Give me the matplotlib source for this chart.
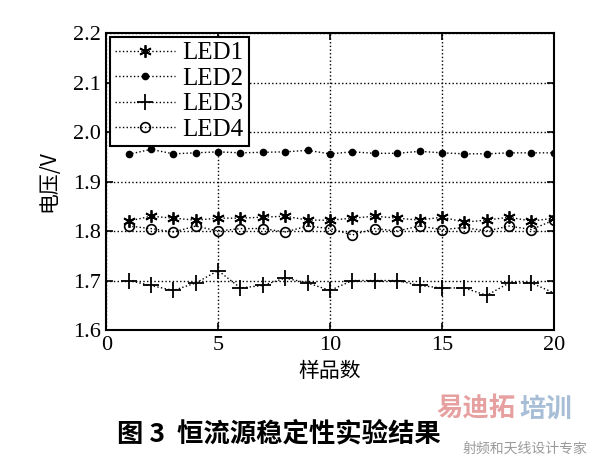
import matplotlib
matplotlib.use("Agg")
import matplotlib.pyplot as plt

# 样品编号
samples = list(range(1, 21))

# 各LED电压 (V)
led1 = [1.820, 1.830, 1.826, 1.822, 1.826, 1.826, 1.828, 1.830, 1.822, 1.822,
        1.826, 1.830, 1.826, 1.822, 1.828, 1.818, 1.822, 1.828, 1.820, 1.826]
led2 = [1.955, 1.965, 1.956, 1.958, 1.960, 1.958, 1.959, 1.960, 1.963, 1.956,
        1.960, 1.957, 1.957, 1.961, 1.958, 1.956, 1.956, 1.958, 1.958, 1.958]
led3 = [1.700, 1.690, 1.680, 1.695, 1.720, 1.685, 1.690, 1.705, 1.695, 1.680,
        1.700, 1.700, 1.700, 1.690, 1.685, 1.685, 1.670, 1.695, 1.695, 1.675]
led4 = [1.810, 1.805, 1.798, 1.810, 1.800, 1.805, 1.805, 1.798, 1.810, 1.805,
        1.792, 1.805, 1.800, 1.810, 1.803, 1.807, 1.800, 1.810, 1.803, 1.822]

xticks = [0, 5, 10, 15, 20]
yticks = [1.6, 1.7, 1.8, 1.9, 2.0, 2.1, 2.2]

serif = ["Liberation Serif", "DejaVu Serif"]
cjk = ["Noto Sans CJK SC", "DejaVu Sans"]

fig = plt.figure(figsize=(6.0, 4.59), dpi=100)
ax = fig.add_axes([0.177, 0.281, 0.746, 0.647])

# MATLAB 风格的 * 号标记
ax.plot(samples, led1, ":", color="black", marker=(6, 2, 0), markersize=9, mew=1.3, lw=1, label="LED1")
ax.plot(samples, led2, ":", color="black", marker=".", markersize=9, lw=1, label="LED2")
ax.plot(samples, led3, ":", color="black", marker="+", markersize=11, mew=1.3, lw=1, label="LED3")
ax.plot(samples, led4, ":", color="black", marker="o", markersize=7, mfc="none", mew=1.2, lw=1, label="LED4")

ax.set_xlim(0, 20)
ax.set_ylim(1.6, 2.2)
ax.set_xticks(xticks)
ax.set_yticks(yticks)
ax.set_xticklabels([str(t) for t in xticks], family=serif, fontsize=16)
ax.set_yticklabels(["%.1f" % t for t in yticks], family=serif, fontsize=16)
ax.tick_params(direction="in", length=5, width=1.2, top=True, right=True, pad=4)
ax.grid(True, linestyle=":", color="black", linewidth=1)
for s in ax.spines.values():
    s.set_linewidth(1.5)

ax.set_xlabel("样品数", family=cjk, fontsize=15, labelpad=4)
ax.set_ylabel("电压/V", family=cjk, fontsize=15, labelpad=10)

leg = ax.legend(loc="upper left", prop={"family": serif, "size": 18}, frameon=True,
                fancybox=False, edgecolor="black", borderaxespad=0.15,
                handlelength=2.4, handletextpad=0.3, labelspacing=0.12, borderpad=0.2)
leg.get_frame().set_linewidth(1.5)
leg.get_frame().set_alpha(1)

fig.text(0.465, 0.055, "图 3  恒流源稳定性实验结果", family=cjk, fontsize=19,
         fontweight="bold", ha="center", va="center")
fig.text(0.86, 0.108, "易迪拓", family=cjk, fontsize=19, fontweight="bold",
         color="#e7a0a0", ha="right", va="center")
fig.text(0.865, 0.108, "培训", family=cjk, fontsize=19, fontweight="bold",
         color="#a8bdd6", ha="left", va="center")
fig.text(0.875, 0.022, "射频和天线设计专家", family=cjk, fontsize=10,
         color="#9a9a9a", ha="center", va="center")

fig.savefig("out.png", dpi=100, facecolor="white")
